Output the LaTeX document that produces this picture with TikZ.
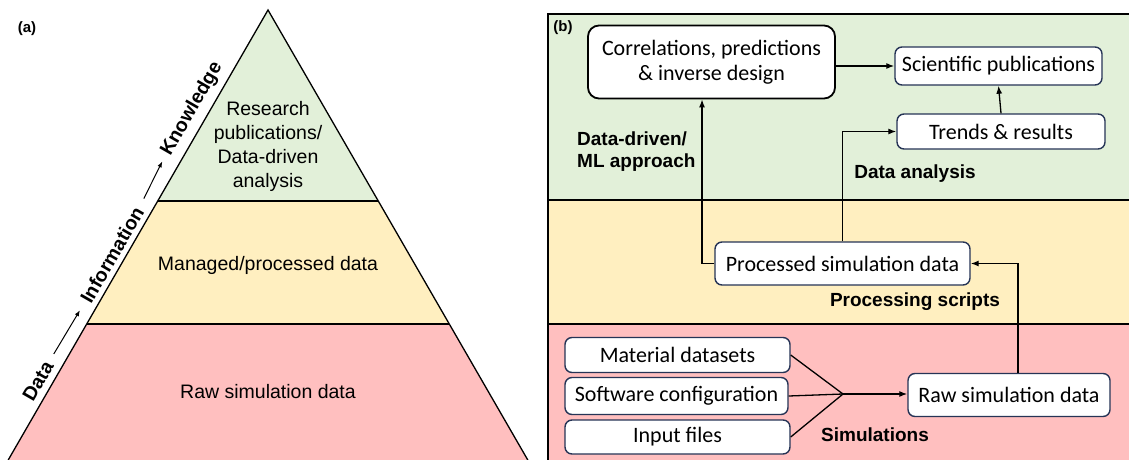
\documentclass[tikz,border=0pt]{standalone}
\usepackage{fontspec}
\setmainfont{Liberation Sans}
\newfontfamily\calib{Carlito}
\usetikzlibrary{arrows.meta,calc}

\definecolor{kgreen}{RGB}{226,240,217}
\definecolor{kyellow}{RGB}{255,239,192}
\definecolor{kpink}{RGB}{255,191,191}
\definecolor{kborder}{RGB}{38,52,86}

\begin{document}
\begin{tikzpicture}[x=1pt,y=-1pt,
  flowbox/.style={draw=kborder, line width=1.4pt, fill=white, rounded corners=7pt,
    font=\calib\fontsize{22}{25}\selectfont, inner sep=0pt, align=center},
  conn/.style={line width=1.3pt},
  arr/.style={conn, -{Latex[length=8pt,width=6pt]}},
  thinarr/.style={line width=1pt, -{Latex[length=6pt,width=4.5pt]}},
  tag/.style={font=\bfseries\fontsize{19}{22}\selectfont, inner sep=0pt},
  paneltag/.style={font=\bfseries\fontsize{15}{18}\selectfont, inner sep=0pt},
  levtext/.style={font=\fontsize{19.5}{24}\selectfont, align=center, inner sep=0pt},
  sidelbl/.style={font=\bfseries\fontsize{19.5}{22}\selectfont, rotate=60, inner sep=0pt},
  band/.style={line width=1.6pt}
]
\useasboundingbox (0,0) rectangle (1129,460);

% ---------- (a) pyramid ----------
\node[paneltag] (taga) at (27,29) {(a)};

\coordinate (apex) at (268,10);
\coordinate (bl) at (8.2,460);
\coordinate (br) at (527.8,460);
\coordinate (gl) at ($(apex)!0.4244!(bl)$);
\coordinate (gr) at ($(apex)!0.4244!(br)$);
\coordinate (yl) at ($(apex)!0.6978!(bl)$);
\coordinate (yr) at ($(apex)!0.6978!(br)$);

\fill[kgreen] (apex) -- (gl) -- (gr) -- cycle;
\fill[kyellow] (gl) -- (yl) -- (yr) -- (gr) -- cycle;
\fill[kpink] (yl) -- (bl) -- (br) -- (yr) -- cycle;
\draw[line width=1.3pt] (bl) -- (apex) -- (br);
\draw[band] (gl) -- (gr);
\draw[band] (yl) -- (yr);

\node[levtext] (lvtop) at (268,146) {Research\\publications/\\Data-driven\\analysis};
\node[levtext] (lvmid) at (268,265) {Managed/processed data};
\node[levtext] (lvbot) at (268,392) {Raw simulation data};

\node[sidelbl] (ldata) at (38,381) {Data};
\node[sidelbl] (linfo) at (112,255) {Information};
\node[sidelbl] (lknow) at (192,109) {Knowledge};
\draw[thinarr, shorten <=10pt, shorten >=10pt] (ldata.east) -- (linfo.west);
\draw[thinarr, shorten <=11pt, shorten >=8pt] (linfo.east) -- (lknow.west);

% ---------- (b) workflow ----------
\fill[kgreen] (548,14) rectangle (1131,200);
\fill[kyellow] (548,200) rectangle (1131,324);
\fill[kpink] (548,324) rectangle (1131,462);
\draw[band] (548,14) rectangle (1131,462);
\draw[band] (548,200) -- (1131,200);
\draw[band] (548,324) -- (1131,324);

\node[paneltag] (tagb) at (563,28) {(b)};

\node[flowbox, draw=black, line width=1.8pt, rounded corners=11pt,
      minimum width=247pt, minimum height=73pt] (corr) at (711.5,62)
      {Correlations, predictions\\\& inverse design};
\node[flowbox, minimum width=207pt, minimum height=38pt] (sci) at (998.5,66) {Scientific publications};
\node[flowbox, minimum width=208pt, minimum height=35pt] (trends) at (1001,131.5) {Trends \& results};
\node[flowbox, minimum width=255pt, minimum height=43pt] (proc) at (842.5,263.5) {Processed simulation data};
\node[flowbox, minimum width=202pt, minimum height=43pt] (raw) at (1009,395) {Raw simulation data};
\node[flowbox, minimum width=225pt, minimum height=35pt] (mat) at (677.5,355) {Material datasets};
\node[flowbox, minimum width=223pt, minimum height=37pt] (soft) at (676.5,396) {Software configuration};
\node[flowbox, minimum width=225pt, minimum height=34pt] (inp) at (677.5,437) {Input files};

\node[tag, align=left, anchor=west] (mltag) at (577,152) {Data-driven/\\ML approach};
\node[tag] (antag) at (915,174) {Data analysis};
\node[tag] (prtag) at (915,302) {Processing scripts};
\node[tag] (simtag) at (875,435) {Simulations};

\coordinate (join) at (843,394);

\draw[arr] (corr.east |- sci.west) -- (sci.west);
\draw[arr] (trends.north) -- (sci.south);
\draw[arr] (proc.west) -| ([xshift=-9.5pt]corr.south);
\draw[arr] (proc.north) |- (trends.west);
\draw[arr] ([xshift=9pt]raw.north) |- (proc.east);
\draw[conn] (mat.east) -- (join);
\draw[conn] (soft.east) -- (join);
\draw[conn] (inp.east) -- (join);
\draw[arr] (join) -- (join -| raw.west);
\end{tikzpicture}
\end{document}
